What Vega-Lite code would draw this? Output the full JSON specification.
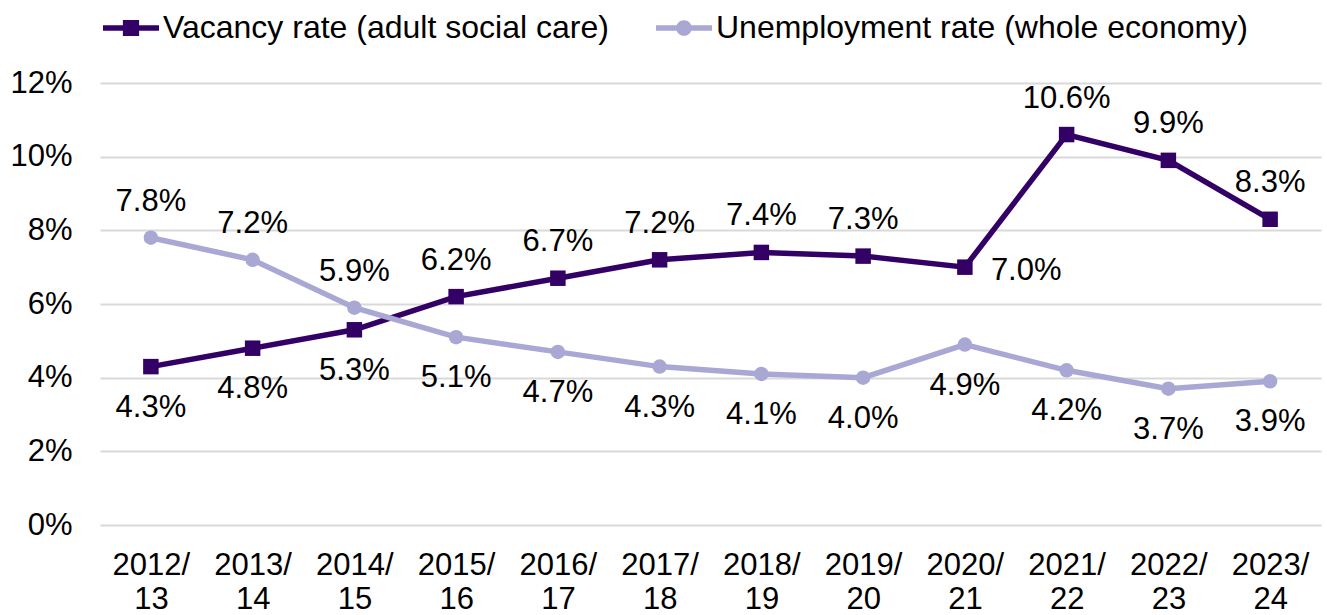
{
  "$schema": "https://vega.github.io/schema/vega-lite/v6.json",
  "width": 1221,
  "height": 442,
  "autosize": {"type": "none"},
  "padding": {"left": 100, "top": 83, "right": 6, "bottom": 90},
  "background": "white",
  "config": {
    "view": {"stroke": null},
    "font": "Liberation Sans",
    "axis": {"domain": false, "ticks": false, "labelFont": "Liberation Sans", "labelFontSize": 31, "labelColor": "#000000", "title": null}
  },
  "resolve": {"legend": {"color": "independent", "shape": "independent"}},
  "data": {
    "values": [
      {"year": "2012/13", "series": "Vacancy rate (adult social care)", "value": 0.043},
      {"year": "2013/14", "series": "Vacancy rate (adult social care)", "value": 0.048},
      {"year": "2014/15", "series": "Vacancy rate (adult social care)", "value": 0.053},
      {"year": "2015/16", "series": "Vacancy rate (adult social care)", "value": 0.062},
      {"year": "2016/17", "series": "Vacancy rate (adult social care)", "value": 0.067},
      {"year": "2017/18", "series": "Vacancy rate (adult social care)", "value": 0.072},
      {"year": "2018/19", "series": "Vacancy rate (adult social care)", "value": 0.074},
      {"year": "2019/20", "series": "Vacancy rate (adult social care)", "value": 0.073},
      {"year": "2020/21", "series": "Vacancy rate (adult social care)", "value": 0.070},
      {"year": "2021/22", "series": "Vacancy rate (adult social care)", "value": 0.106},
      {"year": "2022/23", "series": "Vacancy rate (adult social care)", "value": 0.099},
      {"year": "2023/24", "series": "Vacancy rate (adult social care)", "value": 0.083},
      {"year": "2012/13", "series": "Unemployment rate (whole economy)", "value": 0.078},
      {"year": "2013/14", "series": "Unemployment rate (whole economy)", "value": 0.072},
      {"year": "2014/15", "series": "Unemployment rate (whole economy)", "value": 0.059},
      {"year": "2015/16", "series": "Unemployment rate (whole economy)", "value": 0.051},
      {"year": "2016/17", "series": "Unemployment rate (whole economy)", "value": 0.047},
      {"year": "2017/18", "series": "Unemployment rate (whole economy)", "value": 0.043},
      {"year": "2018/19", "series": "Unemployment rate (whole economy)", "value": 0.041},
      {"year": "2019/20", "series": "Unemployment rate (whole economy)", "value": 0.040},
      {"year": "2020/21", "series": "Unemployment rate (whole economy)", "value": 0.049},
      {"year": "2021/22", "series": "Unemployment rate (whole economy)", "value": 0.042},
      {"year": "2022/23", "series": "Unemployment rate (whole economy)", "value": 0.037},
      {"year": "2023/24", "series": "Unemployment rate (whole economy)", "value": 0.039}
    ]
  },
  "encoding": {
    "x": {
      "field": "year",
      "type": "ordinal",
      "sort": null,
      "axis": {"labelAngle": 0, "labelPadding": 25, "labelLineHeight": 34, "labelExpr": "[slice(datum.label, 0, 5), slice(datum.label, 5)]", "grid": false}
    },
    "y": {
      "field": "value",
      "type": "quantitative",
      "scale": {"domain": [0, 0.12], "nice": false},
      "axis": {"values": [0, 0.02, 0.04, 0.06, 0.08, 0.1, 0.12], "format": ".0%", "labelPadding": 28, "grid": true, "gridColor": "#D9D9D9", "gridWidth": 2}
    }
  },
  "layer": [
    {
      "mark": {"type": "line", "strokeWidth": 5.5},
      "encoding": {
        "color": {"field": "series", "type": "nominal", "scale": {"domain": ["Vacancy rate (adult social care)", "Unemployment rate (whole economy)"], "range": ["#330066", "#A9A8D4"]}, "legend": null}
      }
    },
    {
      "transform": [{"filter": "datum.series === 'Vacancy rate (adult social care)'"}],
      "mark": {"type": "point", "shape": "square", "filled": true, "size": 240, "opacity": 1},
      "encoding": {"color": {"field": "series", "type": "nominal", "legend": null}}
    },
    {
      "transform": [{"filter": "datum.series === 'Unemployment rate (whole economy)'"}],
      "mark": {"type": "point", "shape": "circle", "filled": true, "size": 210, "opacity": 1},
      "encoding": {"color": {"field": "series", "type": "nominal", "legend": null}}
    },
    {
      "mark": {"type": "point", "filled": true, "opacity": 0},
      "encoding": {
        "color": {
          "field": "series", "type": "nominal",
          "legend": {"orient": "none", "legendX": 3, "legendY": -83, "direction": "horizontal", "title": null, "labelFontSize": 32, "labelFont": "Liberation Sans", "labelColor": "#000000", "labelLimit": 1000, "labelOffset": 4, "symbolSize": 3136, "symbolOpacity": 1, "symbolStrokeWidth": 0, "columnPadding": 47, "padding": 0}
        },
        "shape": {
          "field": "series", "type": "nominal",
          "scale": {"domain": ["Vacancy rate (adult social care)", "Unemployment rate (whole economy)"], "range": ["M-1,-0.1H-0.25V0.1H-1Z M0.25,-0.1H1V0.1H0.25Z M-0.29,-0.29H0.29V0.29H-0.29Z", "M-1,-0.1H-0.25V0.1H-1Z M0.25,-0.1H1V0.1H0.25Z M-0.28,0A0.28,0.28 0 1 1 0.28,0A0.28,0.28 0 1 1 -0.28,0Z"]},
          "legend": {"orient": "none", "legendX": 3, "legendY": -83, "direction": "horizontal", "title": null, "labelFontSize": 32, "labelFont": "Liberation Sans", "labelColor": "#000000", "labelLimit": 1000, "labelOffset": 4, "symbolSize": 3136, "symbolOpacity": 1, "symbolStrokeWidth": 0, "columnPadding": 47, "padding": 0}
        }
      }
    },
    {
      "transform": [{"filter": "datum.series === 'Vacancy rate (adult social care)' ? indexof(['2015/16','2016/17','2017/18','2018/19','2019/20','2021/22','2022/23','2023/24'], datum.year) >= 0 : indexof(['2012/13','2013/14','2014/15'], datum.year) >= 0"}],
      "mark": {"type": "text", "dy": -36, "baseline": "middle", "align": "center", "fontSize": 31, "font": "Liberation Sans", "color": "#000000"},
      "encoding": {"text": {"field": "value", "type": "quantitative", "format": ".1%"}}
    },
    {
      "transform": [{"filter": "datum.series === 'Vacancy rate (adult social care)' ? indexof(['2012/13','2013/14','2014/15'], datum.year) >= 0 : indexof(['2012/13','2013/14','2014/15'], datum.year) < 0"}],
      "mark": {"type": "text", "dy": 41, "baseline": "middle", "align": "center", "fontSize": 31, "font": "Liberation Sans", "color": "#000000"},
      "encoding": {"text": {"field": "value", "type": "quantitative", "format": ".1%"}}
    },
    {
      "transform": [{"filter": "datum.series === 'Vacancy rate (adult social care)' && datum.year === '2020/21'"}],
      "mark": {"type": "text", "dx": 26, "dy": 4, "baseline": "middle", "align": "left", "fontSize": 31, "font": "Liberation Sans", "color": "#000000"},
      "encoding": {"text": {"field": "value", "type": "quantitative", "format": ".1%"}}
    }
  ]
}
